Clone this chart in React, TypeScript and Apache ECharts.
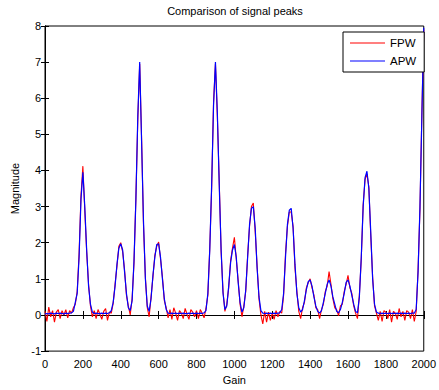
import React, { useEffect, useRef } from "react";
import * as echarts from "echarts";

// Gain positions every 10 units, 0..2000
const gainStep = 10;

// APW (blue) magnitudes, one row per 100 gain units
const apw: number[] = [
  0.03, 0.04, 0.03, 0.05, 0.04, 0.03, 0.05, 0.04, 0.05, 0.04,
  0.03, 0.05, 0.04, 0.05, 0.06, 0.1, 0.35, 0.6, 1.6, 3.2,
  3.95, 3.0, 1.8, 0.8, 0.3, 0.08, 0.04, 0.05, 0.04, 0.04,
  0.05, 0.04, 0.05, 0.04, 0.06, 0.12, 0.35, 0.8, 1.4, 1.85,
  1.97, 1.8, 1.2, 0.6, 0.2, 0.12, 0.4, 1.5, 3.2, 5.5,
  7.0, 4.8, 2.6, 1.0, 0.25, 0.1, 0.45, 1.1, 1.6, 1.95,
  1.97, 1.6, 1.0, 0.45, 0.15, 0.05, 0.04, 0.05, 0.04, 0.05,
  0.04, 0.05, 0.04, 0.05, 0.04, 0.04, 0.05, 0.04, 0.05, 0.04,
  0.05, 0.04, 0.05, 0.04, 0.06, 0.12, 0.6, 1.8, 3.6, 5.8,
  7.0, 5.6, 3.6, 1.8, 0.6, 0.15, 0.25, 0.8, 1.45, 1.8,
  1.95, 1.6, 0.9, 0.35, 0.08, 0.2, 0.7, 1.6, 2.5, 2.95,
  3.0, 2.4, 1.3, 0.5, 0.12, 0.05, 0.04, 0.05, 0.04, 0.05,
  0.04, 0.05, 0.04, 0.05, 0.06, 0.15, 0.6, 1.6, 2.5, 2.9,
  2.95, 2.4, 1.4, 0.6, 0.2, 0.08, 0.15, 0.4, 0.7, 0.92,
  0.97, 0.8, 0.5, 0.25, 0.1, 0.05, 0.12, 0.35, 0.6, 0.85,
  0.97, 0.8, 0.5, 0.3, 0.1, 0.06, 0.15, 0.35, 0.6, 0.9,
  0.97, 0.8, 0.55, 0.3, 0.1, 0.06, 0.5, 1.6, 3.0, 3.8,
  3.98, 3.5, 2.3, 1.0, 0.3, 0.08, 0.05, 0.04, 0.05, 0.04,
  0.05, 0.04, 0.05, 0.04, 0.05, 0.04, 0.05, 0.04, 0.05, 0.04,
  0.05, 0.04, 0.05, 0.04, 0.05, 0.05, 0.15, 1.2, 3.0, 5.5,
  7.95,
];

// FPW (red) magnitudes, noisy, same positions
const fpw: number[] = [
  0.1, -0.18, 0.22, -0.05, 0.12, -0.2, 0.08, 0.15, -0.1, 0.12,
  0.0, 0.15, -0.08, 0.12, 0.05, 0.2, 0.3, 0.65, 1.7, 3.3,
  4.12, 2.9, 1.75, 0.85, 0.25, -0.05, 0.12, -0.1, 0.15, 0.02,
  -0.12, 0.1, 0.18, -0.15, 0.08, 0.05, 0.32, 0.85, 1.35, 1.9,
  2.0, 1.75, 1.25, 0.55, 0.25, 0.0, 0.45, 1.45, 3.25, 5.4,
  6.95, 4.9, 2.5, 1.05, 0.2, -0.05, 0.5, 1.05, 1.65, 1.9,
  2.02, 1.55, 1.05, 0.4, 0.2, -0.08, 0.15, -0.12, 0.2, 0.05,
  -0.15, 0.12, 0.05, -0.1, 0.18, 0.02, -0.12, 0.15, 0.08, -0.05,
  0.12, -0.1, 0.15, 0.05, -0.08, 0.18, 0.55, 1.85, 3.5, 5.9,
  6.95, 5.5, 3.7, 1.75, 0.65, 0.1, 0.3, 0.75, 1.5, 1.85,
  2.15, 1.55, 0.95, 0.3, -0.05, 0.25, 0.65, 1.65, 2.45, 3.0,
  3.1, 2.3, 1.35, 0.45, 0.0, -0.25, 0.1, -0.2, 0.08, -0.15,
  0.05, -0.12, 0.12, -0.05, 0.1, 0.05, 0.55, 1.7, 2.45, 2.85,
  2.85, 2.45, 1.3, 0.65, 0.1, -0.1, 0.2, 0.35, 0.75, 0.9,
  1.0, 0.75, 0.55, 0.2, 0.15, -0.1, 0.15, 0.3, 0.65, 0.8,
  1.2, 0.85, 0.45, 0.2, 0.15, -0.02, 0.25, 0.3, 0.65, 0.85,
  1.1, 0.75, 0.6, 0.25, 0.05, -0.1, 0.55, 1.55, 3.05, 3.75,
  3.9, 3.55, 2.2, 1.05, 0.25, 0.05, -0.15, 0.1, -0.18, 0.12,
  0.08, -0.1, 0.15, -0.2, 0.1, 0.05, -0.12, 0.18, -0.05, 0.1,
  -0.15, 0.12, 0.08, -0.1, 0.15, -0.18, 0.1, 1.25, 2.95, 5.6,
  7.9,
];

const seriesNames = ["FPW", "APW"];
const seriesColors = ["#ff0000", "#0000ff"];
const xRange = [0, 2000, 200];
const yRange = [-1, 8, 1];

const FONT = "Liberation Sans, Arial, sans-serif";

export default function App() {
  const ref = useRef<HTMLDivElement>(null);
  useEffect(() => {
    if (!ref.current) return;
    const chart = echarts.init(ref.current, undefined, { renderer: "svg" });
    const toPairs = (arr: number[]) => arr.map((v, i) => [i * gainStep, v]);
    const tickStyle = { inside: true, length: 4, lineStyle: { color: "#000", width: 1 } };
    const lineStyle = { show: true, lineStyle: { color: "#000", width: 1 } };
    const labelStyle = { color: "#000", fontSize: 11, fontFamily: FONT };
    const plain = (v: number) => String(v);
    chart.setOption({
      animation: false,
      backgroundColor: "#fff",
      title: {
        text: "Comparison of signal peaks",
        left: 235,
        top: 5,
        textAlign: "center",
        padding: 0,
        textStyle: { color: "#000", fontSize: 11, fontWeight: "normal", fontFamily: FONT },
      },
      legend: {
        data: seriesNames,
        orient: "vertical",
        left: 343,
        top: 32,
        icon: "rect",
        itemWidth: 35,
        itemHeight: 1.2,
        itemGap: 4,
        itemStyle: { borderWidth: 0 },
        padding: [4, 8, 4, 7],
        borderColor: "#000",
        borderWidth: 1,
        backgroundColor: "#fff",
        textStyle: { color: "#000", fontSize: 11.5, fontFamily: FONT, lineHeight: 14 },
      },
      grid: {
        left: 45,
        right: 14,
        top: 26,
        bottom: 37,
        show: true,
        borderColor: "#000",
        borderWidth: 1,
        backgroundColor: "#fff",
      },
      xAxis: [
        {
          type: "value",
          min: xRange[0],
          max: xRange[1],
          interval: xRange[2],
          position: "bottom",
          name: "Gain",
          nameLocation: "middle",
          nameGap: 22,
          nameTextStyle: { ...labelStyle },
          axisLine: lineStyle,
          axisTick: tickStyle,
          axisLabel: { ...labelStyle, margin: 7, formatter: plain },
          splitLine: { show: false },
        },
        {
          type: "value",
          min: xRange[0],
          max: xRange[1],
          interval: xRange[2],
          position: "top",
          axisLine: lineStyle,
          axisTick: tickStyle,
          axisLabel: { show: false },
          splitLine: { show: false },
        },
      ],
      yAxis: [
        {
          type: "value",
          min: yRange[0],
          max: yRange[1],
          interval: yRange[2],
          position: "left",
          name: "Magnitude",
          nameLocation: "middle",
          nameGap: 21,
          nameTextStyle: { ...labelStyle },
          axisLine: lineStyle,
          axisTick: tickStyle,
          axisLabel: { ...labelStyle, margin: 4, formatter: plain },
          splitLine: { show: false },
        },
        {
          type: "value",
          min: yRange[0],
          max: yRange[1],
          interval: yRange[2],
          position: "right",
          axisLine: lineStyle,
          axisTick: tickStyle,
          axisLabel: { show: false },
          splitLine: { show: false },
        },
      ],
      series: [
        {
          name: seriesNames[0],
          type: "line",
          data: toPairs(fpw),
          showSymbol: false,
          symbol: "none",
          color: seriesColors[0],
          lineStyle: { color: seriesColors[0], width: 1.1 },
          xAxisIndex: 0,
          yAxisIndex: 0,
        },
        {
          name: seriesNames[1],
          type: "line",
          data: toPairs(apw),
          showSymbol: false,
          symbol: "none",
          color: seriesColors[1],
          lineStyle: { color: seriesColors[1], width: 1.2 },
          xAxisIndex: 0,
          yAxisIndex: 0,
        },
      ],
    });
    return () => chart.dispose();
  }, []);
  return (
    <div
      ref={ref}
      style={{ position: "fixed", left: 0, top: 0, width: 439, height: 390, background: "#fff" }}
    />
  );
}
